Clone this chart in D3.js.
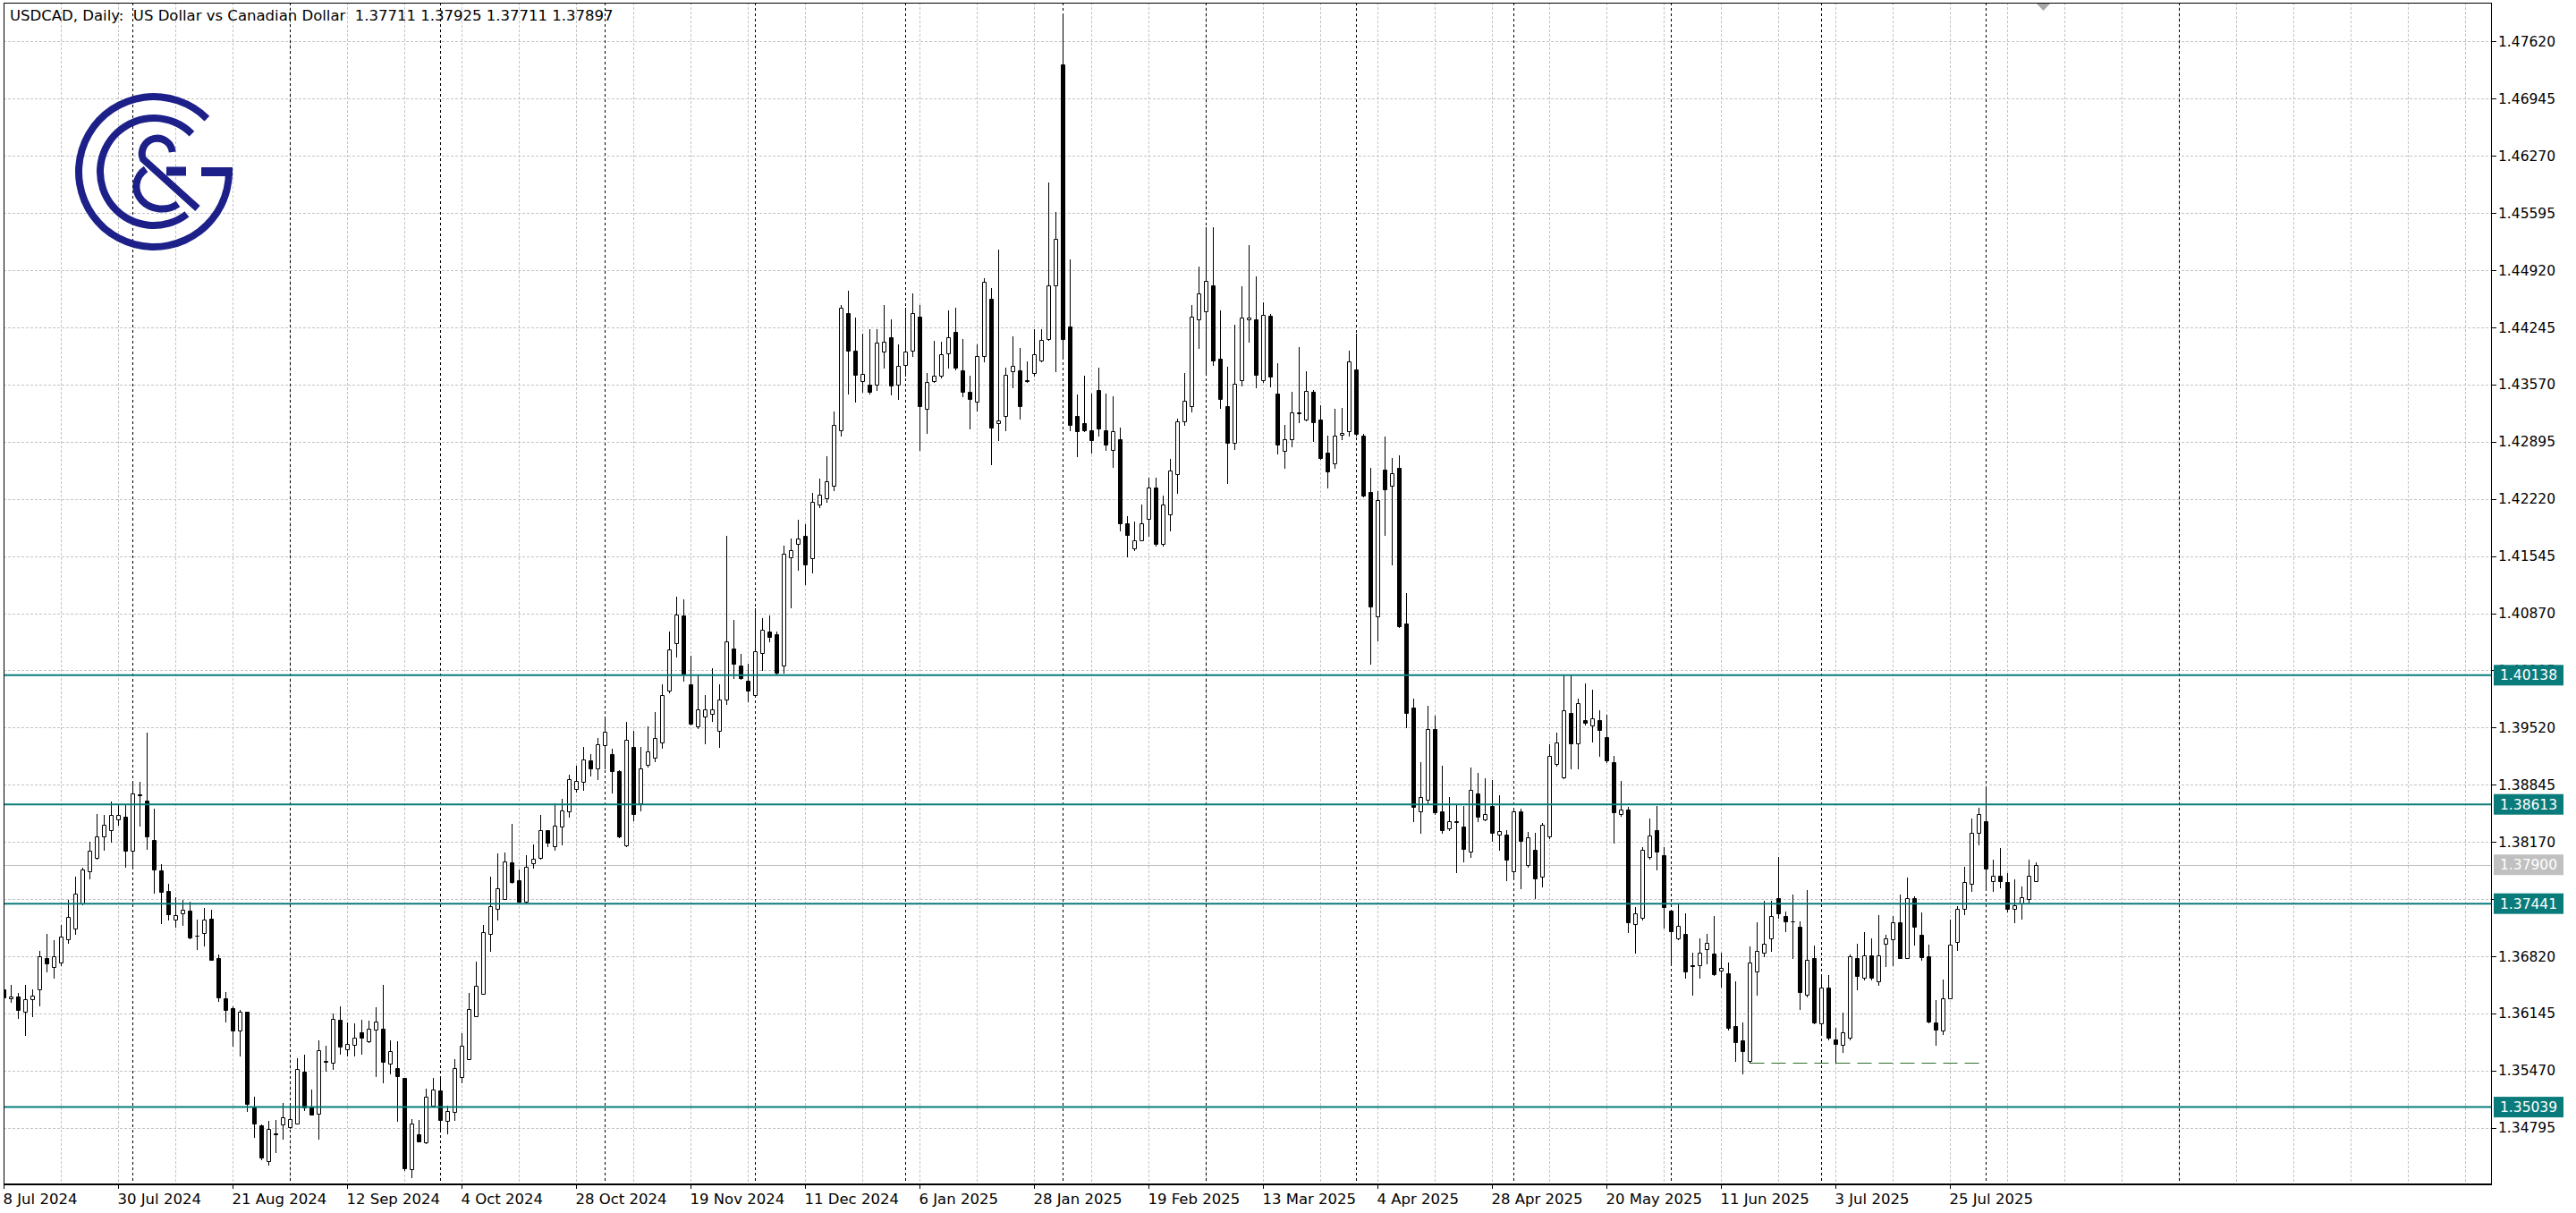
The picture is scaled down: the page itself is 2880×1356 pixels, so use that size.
<!DOCTYPE html>
<html><head><meta charset="utf-8">
<script src="https://cdn.jsdelivr.net/npm/d3@7"></script>
<style>html,body{margin:0;padding:0;background:#fff;overflow:hidden}</style>
</head><body>
<svg id="chart" width="2880" height="1356"></svg>
<script>
// ---------------- DATA ----------------
const titleText = "USDCAD, Daily:  US Dollar vs Canadian Dollar  1.37711 1.37925 1.37711 1.37897";

const open = [
1.36433,1.36327,1.36348,1.36162,1.36311,1.36433,1.36794,1.36693,1.36746,1.37017,
1.37145,1.37443,1.37825,1.37985,1.38235,1.38304,1.38436,1.38463,1.38064,1.38729,
1.38660,1.38197,1.37836,1.37586,1.37251,1.37331,1.37363,1.37065,1.37092,1.37267,
1.36799,1.36321,1.36204,1.35938,1.36162,1.35035,1.34822,1.34397,1.34726,1.34833,
1.34806,1.34849,1.35460,1.35045,1.34966,1.35582,1.35567,1.36071,1.35726,1.35779,
1.35923,1.35816,1.35955,1.35965,1.35556,1.35498,1.35381,1.34302,1.34716,1.34626,
1.35061,1.35232,1.34875,1.34981,1.35391,1.35609,1.36114,1.36380,1.37081,1.37384,
1.37496,1.37931,1.37719,1.37464,1.37921,1.37985,1.38304,1.38118,1.38346,1.38527,
1.38792,1.38877,1.39128,1.39037,1.39313,1.39207,1.39010,1.38128,1.39290,1.38622,
1.39079,1.39160,1.39349,1.39954,1.40519,1.40843,1.40035,1.39530,1.39645,1.39685,
1.39477,1.39851,1.40452,1.40251,1.40069,1.39905,1.40405,1.40654,1.40620,1.40251,
1.41529,1.41684,1.41785,1.41516,1.42155,1.42222,1.42377,1.43030,1.44409,1.43972,
1.43615,1.43568,1.43568,1.43959,1.44127,1.43568,1.43804,1.43972,1.44376,1.43285,
1.43615,1.43669,1.43938,1.44187,1.43737,1.43481,1.43366,1.43905,1.44578,1.43117,
1.43198,1.43723,1.43737,1.43622,1.43703,1.43858,1.44107,1.44746,1.47350,1.44255,
1.43198,1.43111,1.43030,1.43501,1.43030,1.42794,1.42929,1.41933,1.41637,1.41731,
1.41987,1.42357,1.41684,1.42040,1.42512,1.43131,1.43319,1.44342,1.44430,1.44746,
1.43871,1.43312,1.42882,1.43622,1.44342,1.44342,1.43622,1.44383,1.43461,1.42788,
1.42923,1.43226,1.43158,1.43481,1.43158,1.42768,1.42640,1.42977,1.43024,1.43751,
1.42970,1.42304,1.40837,1.42566,1.42371,1.42586,1.40749,1.39760,1.38528,1.38663,
1.39504,1.38528,1.38326,1.38407,1.38346,1.38057,1.38737,1.38434,1.38596,1.38259,
1.38259,1.37828,1.38528,1.37896,1.38077,1.37761,1.38232,1.39087,1.38932,1.39692,
1.39336,1.39612,1.39544,1.39605,1.39403,1.39107,1.38494,1.38548,1.37202,1.37270,
1.37990,1.38313,1.38010,1.37357,1.37034,1.37088,1.36711,1.36711,1.36900,1.36852,
1.36651,1.36617,1.35991,1.35823,1.35587,1.36644,1.36866,1.37034,1.37505,1.37290,
1.37236,1.37169,1.36361,1.36799,1.36025,1.36449,1.35836,1.35769,1.35857,1.36799,
1.36563,1.36832,1.36529,1.36972,1.37024,1.37221,1.36799,1.37510,1.37070,1.36817,
1.36043,1.35938,1.36325,1.36993,1.37376,1.37678,1.38273,1.38417,1.37710,1.37773,
1.37692,1.37380,1.37439,1.37499,1.37711];

const high = [
1.36444,1.36486,1.36391,1.36481,1.36428,1.36885,1.37081,1.37012,1.37193,1.37480,
1.37756,1.37862,1.38171,1.38500,1.38489,1.38649,1.38612,1.38612,1.38888,1.38877,
1.39462,1.38559,1.37905,1.37676,1.37517,1.37480,1.37464,1.37251,1.37389,1.37373,
1.36842,1.36401,1.36231,1.36189,1.36167,1.35157,1.34838,1.34875,1.34891,1.35088,
1.35051,1.35620,1.35657,1.35248,1.35822,1.35763,1.36146,1.36231,1.36034,1.36029,
1.36071,1.36055,1.36220,1.36481,1.35827,1.35816,1.35381,1.34902,1.34886,1.35258,
1.35381,1.35402,1.35061,1.35604,1.35912,1.36391,1.36752,1.37187,1.37756,1.38038,
1.38048,1.38383,1.37846,1.38011,1.38144,1.38489,1.38314,1.38622,1.38676,1.38968,
1.39074,1.39287,1.39207,1.39393,1.39617,1.39271,1.39021,1.39590,1.39480,1.39295,
1.39530,1.39699,1.40035,1.40654,1.41065,1.41031,1.40372,1.40136,1.39905,1.40224,
1.40035,1.41785,1.40789,1.40385,1.40271,1.40923,1.40809,1.40843,1.40654,1.41664,
1.41751,1.41973,1.41919,1.42290,1.42458,1.42727,1.43252,1.44510,1.44679,1.44356,
1.44174,1.44221,1.44221,1.44510,1.44342,1.44039,1.44477,1.44645,1.44510,1.43703,
1.44086,1.44073,1.44443,1.44477,1.44107,1.43669,1.44039,1.44827,1.44712,1.45163,
1.43770,1.44140,1.44006,1.43838,1.44221,1.44221,1.45957,1.45608,1.47943,1.45049,
1.43454,1.43669,1.43467,1.43770,1.43467,1.43434,1.43064,1.42020,1.41953,1.42155,
1.42471,1.42471,1.42256,1.42693,1.43164,1.43703,1.44510,1.44961,1.45432,1.45432,
1.44443,1.43784,1.44275,1.44726,1.45217,1.44847,1.44544,1.44403,1.43818,1.43091,
1.43481,1.44013,1.43730,1.43508,1.43327,1.42970,1.43280,1.43293,1.43966,1.44168,
1.42990,1.42586,1.42317,1.42957,1.42707,1.42734,1.41106,1.39861,1.39107,1.39780,
1.39659,1.39067,1.38697,1.38616,1.38596,1.39053,1.38986,1.38919,1.38898,1.38717,
1.38313,1.38569,1.38562,1.38293,1.38279,1.38394,1.39322,1.39457,1.40143,1.40143,
1.39861,1.40042,1.39962,1.39726,1.39672,1.39188,1.38885,1.38582,1.37404,1.38111,
1.38447,1.38596,1.38111,1.37371,1.37438,1.37323,1.36866,1.37034,1.37088,1.37290,
1.36866,1.36751,1.36529,1.36038,1.36933,1.37216,1.37472,1.37472,1.37990,1.37351,
1.37552,1.37236,1.37606,1.36947,1.36597,1.36597,1.35971,1.36159,1.36846,1.36967,
1.37102,1.37034,1.37303,1.37077,1.37299,1.37552,1.37745,1.37527,1.37341,1.36954,
1.36297,1.36550,1.37256,1.37415,1.37879,1.38448,1.38575,1.38818,1.37956,1.38100,
1.37798,1.37731,1.37640,1.37956,1.37925];

const low = [
1.36311,1.36284,1.36093,1.35891,1.36114,1.36242,1.36640,1.36571,1.36714,1.36975,
1.37081,1.37427,1.37735,1.37969,1.38080,1.38171,1.38373,1.37878,1.37889,1.38357,
1.38091,1.37570,1.37214,1.37251,1.37171,1.37187,1.37028,1.36906,1.36948,1.36773,
1.36295,1.36045,1.35763,1.35646,1.34997,1.34690,1.34424,1.34360,1.34503,1.34663,
1.34790,1.34849,1.35008,1.34955,1.34663,1.35471,1.35487,1.35673,1.35646,1.35646,
1.35673,1.35806,1.35407,1.35327,1.35434,1.34875,1.34291,1.34211,1.34636,1.34610,
1.35045,1.34785,1.34732,1.34886,1.35327,1.35609,1.36114,1.36380,1.36885,1.37251,
1.37496,1.37682,1.37464,1.37453,1.37868,1.37974,1.38118,1.38080,1.38144,1.38463,
1.38766,1.38782,1.38952,1.38915,1.39037,1.38755,1.38224,1.38118,1.38420,1.38541,
1.39059,1.39126,1.39281,1.39934,1.40358,1.40069,1.39550,1.39510,1.39329,1.39598,
1.39295,1.39800,1.40102,1.40089,1.39833,1.39887,1.40203,1.40539,1.40150,1.40170,
1.40943,1.41381,1.41213,1.41347,1.42121,1.42189,1.42323,1.42962,1.43467,1.43366,
1.43481,1.43467,1.43501,1.43770,1.43454,1.43400,1.43669,1.43905,1.42794,1.42996,
1.43602,1.43656,1.43770,1.43750,1.43434,1.43050,1.43265,1.43838,1.42626,1.42916,
1.43030,1.43535,1.43164,1.43602,1.43669,1.43838,1.44093,1.43723,1.43871,1.43030,
1.42727,1.43016,1.42761,1.42962,1.42794,1.42592,1.41852,1.41536,1.41617,1.41731,
1.41785,1.41670,1.41670,1.41852,1.42290,1.43097,1.43252,1.44006,1.43683,1.43804,
1.43299,1.42404,1.42808,1.43555,1.44073,1.43535,1.43602,1.43549,1.42755,1.42586,
1.42835,1.43125,1.43145,1.42903,1.42687,1.42351,1.42586,1.42923,1.42970,1.42970,
1.42250,1.40278,1.40547,1.41799,1.41442,1.40702,1.39524,1.38414,1.38279,1.38629,
1.38501,1.38279,1.38313,1.37808,1.37943,1.37990,1.38414,1.38421,1.38178,1.38077,
1.37721,1.37761,1.37620,1.37876,1.37505,1.37640,1.38212,1.39067,1.38919,1.39040,
1.39040,1.39558,1.39356,1.39188,1.39107,1.38158,1.38481,1.37102,1.36866,1.37250,
1.37976,1.37842,1.37155,1.36731,1.37020,1.36563,1.36361,1.36563,1.36731,1.36597,
1.36462,1.35957,1.35587,1.35432,1.35567,1.36361,1.36819,1.36886,1.37270,1.37115,
1.36799,1.36193,1.36348,1.36025,1.35890,1.35836,1.35567,1.35688,1.35836,1.36429,
1.36550,1.36550,1.36483,1.36701,1.36711,1.36799,1.36799,1.36958,1.36778,1.36033,
1.35769,1.35899,1.36325,1.36894,1.37316,1.37591,1.38142,1.37633,1.37591,1.37633,
1.37351,1.37218,1.37264,1.37446,1.37711];

const close = [
1.36337,1.36348,1.36189,1.36311,1.36353,1.36821,1.36730,1.36821,1.37054,1.37283,
1.37560,1.37841,1.38064,1.38235,1.38373,1.38489,1.38489,1.38064,1.38739,1.38718,
1.38235,1.37841,1.37581,1.37320,1.37304,1.37373,1.37044,1.37060,1.37251,1.36778,
1.36337,1.36189,1.35938,1.36167,1.35077,1.34849,1.34440,1.34785,1.34721,1.34923,
1.34897,1.35487,1.35035,1.34955,1.35710,1.35577,1.36082,1.35753,1.35784,1.35859,
1.35859,1.35965,1.36045,1.35577,1.35700,1.35407,1.34318,1.34849,1.34636,1.35157,
1.35248,1.34891,1.34997,1.35503,1.35763,1.36194,1.36470,1.37108,1.37410,1.37623,
1.37942,1.37692,1.37464,1.37878,1.37974,1.38304,1.38160,1.38357,1.38543,1.38915,
1.38888,1.39144,1.39037,1.39324,1.39473,1.39005,1.38240,1.39377,1.38500,1.39039,
1.39241,1.39396,1.39905,1.40439,1.40856,1.40156,1.39564,1.39732,1.39732,1.39732,
1.39851,1.40539,1.40271,1.40102,1.39954,1.40425,1.40674,1.40587,1.40170,1.41569,
1.41617,1.41751,1.41448,1.42189,1.42269,1.42424,1.43097,1.44477,1.43972,1.43689,
1.43696,1.43481,1.44060,1.44073,1.43555,1.43790,1.43959,1.44409,1.43319,1.43602,
1.43669,1.43925,1.44127,1.43770,1.43481,1.43400,1.43905,1.44780,1.43064,1.43144,
1.43689,1.43790,1.43319,1.43615,1.43925,1.44093,1.44746,1.45285,1.44107,1.43097,
1.43016,1.43030,1.42909,1.43050,1.42862,1.43016,1.41933,1.41798,1.41731,1.41933,
1.42357,1.41684,1.42155,1.42559,1.43131,1.43380,1.44376,1.44645,1.44793,1.43858,
1.43400,1.42882,1.43582,1.44356,1.44356,1.43683,1.44396,1.43663,1.42856,1.42923,
1.43239,1.43246,1.43495,1.43125,1.42707,1.42539,1.42970,1.42997,1.43845,1.42990,
1.42263,1.40951,1.42203,1.42337,1.42519,1.40716,1.39692,1.38582,1.38697,1.39504,
1.38515,1.38313,1.38414,1.38414,1.38091,1.38784,1.38468,1.38494,1.38279,1.38299,
1.37963,1.38528,1.38178,1.38225,1.37741,1.38367,1.39188,1.39343,1.39726,1.39336,
1.39807,1.39571,1.39625,1.39490,1.39134,1.38515,1.38548,1.37223,1.37323,1.38077,
1.38245,1.38057,1.37404,1.37115,1.37182,1.36644,1.36704,1.36866,1.36981,1.36610,
1.36684,1.35971,1.35809,1.35702,1.36751,1.36886,1.36967,1.37290,1.37323,1.37236,
1.37229,1.36395,1.36778,1.36038,1.36449,1.35857,1.35789,1.35924,1.36819,1.36583,
1.36832,1.36563,1.36832,1.37031,1.37221,1.36799,1.37510,1.37169,1.36813,1.36051,
1.35956,1.36325,1.36961,1.37376,1.37692,1.38273,1.38494,1.37854,1.37773,1.37710,
1.37380,1.37422,1.37520,1.37773,1.37897];

const dateLabels = ["8 Jul 2024","30 Jul 2024","21 Aug 2024","12 Sep 2024","4 Oct 2024","28 Oct 2024",
  "19 Nov 2024","11 Dec 2024","6 Jan 2025","28 Jan 2025","19 Feb 2025","13 Mar 2025","4 Apr 2025",
  "28 Apr 2025","20 May 2025","11 Jun 2025","3 Jul 2025","25 Jul 2025"];
const dateLabelBars = [0,16,32,48,64,80,96,112,128,144,160,176,192,208,224,240,256,272];
const monthStartBars = [18,40,61,84,105,126,148,168,189,211,233,254,277,304];
const priceTicks = [1.34795,1.35470,1.36145,1.36820,1.37495,1.38170,1.38845,1.39520,1.40195,1.40870,
  1.41545,1.42220,1.42895,1.43570,1.44245,1.44920,1.45595,1.46270,1.46945,1.47620];
const levelPrices = [1.40138,1.38613,1.37441,1.35039];
const bidPrice = 1.37900;
const supportBars = [244,276];
const supportPrice = 1.35567;

// ---------------- LAYOUT ----------------
const W = 2880, H = 1356;
const L = 4, R = 2786, T = 3, B = 1324;
const FONT = "'DejaVu Sans', Verdana, sans-serif";
const TEAL = "#0a7b7b", GRID = "#c4c4c4";

const svg = d3.select("#chart");
svg.append("rect").attr("width",W).attr("height",H).attr("fill","#fff");

const x = d3.scaleLinear().domain([0,100]).range([4.5,804.5]);
const y = d3.scaleLinear().domain([1.34795,1.47620]).range([1260.7,46.4]);
const py = p => Math.round(y(p)) + 0.5;

svg.append("defs").append("clipPath").attr("id","plotclip")
  .append("rect").attr("x",L).attr("y",T).attr("width",R-L).attr("height",B-T);
const plot = svg.append("g").attr("clip-path","url(#plotclip)");

// grid (vertical every 8 bars, horizontal at price ticks)
const vGrid = d3.range(0, 44).map(k => k*8);
plot.append("g").selectAll("line").data(vGrid).join("line")
  .attr("x1",d=>x(d)).attr("x2",d=>x(d)).attr("y1",T).attr("y2",B)
  .attr("stroke",GRID).attr("stroke-width",1).attr("stroke-dasharray","3,2");
plot.append("g").selectAll("line").data(priceTicks).join("line")
  .attr("x1",L).attr("x2",R).attr("y1",d=>py(d)).attr("y2",d=>py(d))
  .attr("stroke",GRID).attr("stroke-width",1).attr("stroke-dasharray","3,2");

// month separators
plot.append("g").selectAll("line").data(monthStartBars).join("line")
  .attr("x1",d=>x(d)).attr("x2",d=>x(d)).attr("y1",T).attr("y2",B)
  .attr("stroke","#000").attr("stroke-width",1).attr("stroke-dasharray","3,3");

// bid line
plot.append("line").attr("x1",L).attr("x2",R).attr("y1",py(bidPrice)).attr("y2",py(bidPrice))
  .attr("stroke","#c0c0c0").attr("stroke-width",1);

// candles
const bars = d3.range(open.length).map(i => ({i, o:open[i], h:high[i], l:low[i], c:close[i]}));
const cg = plot.append("g");
cg.selectAll("line").data(bars).join("line")
  .attr("x1",d=>x(d.i)).attr("x2",d=>x(d.i))
  .attr("y1",d=>Math.round(y(d.h))).attr("y2",d=>Math.round(y(d.l))+1)
  .attr("stroke","#000").attr("stroke-width",1);
cg.selectAll("path").data(bars).join("path")
  .attr("d", d => {
    const top = Math.round(y(Math.max(d.o,d.c))) + 0.5;
    const bot = Math.round(y(Math.min(d.o,d.c))) + 0.5;
    const x0 = x(d.i) - 2;
    return `M${x0},${top}H${x0+4}V${bot}H${x0}Z`;
  })
  .attr("fill", d => d.c >= d.o ? "#fff" : "#000")
  .attr("stroke","#000").attr("stroke-width",1);

// level lines
plot.append("g").selectAll("line").data(levelPrices).join("line")
  .attr("x1",L).attr("x2",R).attr("y1",d=>y(d)).attr("y2",d=>y(d))
  .attr("stroke",TEAL).attr("stroke-width",2);

// support dashed segment
plot.append("line")
  .attr("x1",x(supportBars[0])).attr("x2",x(supportBars[1]))
  .attr("y1",py(supportPrice)).attr("y2",py(supportPrice))
  .attr("stroke","#2f6e2f").attr("stroke-width",1).attr("stroke-dasharray","16,8");

// frame
svg.append("rect").attr("x",L+0.5).attr("y",T+0.5).attr("width",R-L-1).attr("height",B-T)
  .attr("fill","none").attr("stroke","#000").attr("stroke-width",1);
svg.append("line").attr("x1",L).attr("x2",R).attr("y1",B).attr("y2",B)
  .attr("stroke","#000").attr("stroke-width",2);

// chart shift marker
svg.append("path").attr("d",`M${x(285)-7.5},${T+1}L${x(285)+7.5},${T+1}L${x(285)},${T+9}Z`)
  .attr("fill","#a8a8a8");

// price axis
const ax = svg.append("g").attr("font-family",FONT).attr("font-size","15.5px");
ax.selectAll("line").data(priceTicks).join("line")
  .attr("x1",R).attr("x2",R+5).attr("y1",d=>py(d)).attr("y2",d=>py(d))
  .attr("stroke","#000");
ax.selectAll("text").data(priceTicks).join("text")
  .attr("x",R+7).attr("y",d=>y(d)).attr("dy","0.36em")
  .attr("fill","#000").text(d=>d.toFixed(5));

// level label boxes
const lb = svg.append("g").attr("font-family",FONT).attr("font-size","15.5px");
const boxes = levelPrices.map(p => ({p, fill:TEAL})).concat([{p:bidPrice, fill:"#c0c0c0"}]);
lb.selectAll("rect").data(boxes).join("rect")
  .attr("x",R+2).attr("y",d=>y(d.p)-11.5).attr("width",78).attr("height",23).attr("fill",d=>d.fill);
lb.selectAll("text").data(boxes).join("text")
  .attr("x",R+9).attr("y",d=>y(d.p)).attr("dy","0.36em").attr("fill","#fff").text(d=>d.p.toFixed(5));

// time axis
const tx = svg.append("g").attr("font-family",FONT).attr("font-size","16.5px");
tx.selectAll("line").data(dateLabelBars).join("line")
  .attr("x1",d=>x(d)).attr("x2",d=>x(d)).attr("y1",B).attr("y2",B+5).attr("stroke","#000");
tx.selectAll("text").data(dateLabels).join("text")
  .attr("x",(d,i)=>x(dateLabelBars[i]) - 1).attr("y",1346).attr("fill","#000").text(d=>d);

// title
svg.append("text").attr("x",11).attr("y",23).attr("font-family",FONT).attr("font-size","16.5px")
  .attr("fill","#000").style("white-space","pre").text(titleText);

// logo
const NAVY = "#1d2088";
const lg = svg.append("g").attr("transform","translate(172,192)");
const arc = d3.arc();
lg.append("path").attr("fill",NAVY)
  .attr("d",arc({innerRadius:80,outerRadius:88,startAngle:Math.PI/2,endAngle:Math.PI*2+Math.PI/4}));
lg.append("rect").attr("x",53).attr("y",-5).attr("width",35).attr("height",10).attr("fill",NAVY);
lg.append("path").attr("fill",NAVY)
  .attr("d",arc({innerRadius:56,outerRadius:64,startAngle:142*Math.PI/180,endAngle:Math.PI*2+Math.PI/4}));
const amp = svg.append("g").attr("fill","none").attr("stroke",NAVY).attr("stroke-width",8);
amp.append("path").attr("d","M192.7,170 A17,17 0 1 0 160,178 L221,233");
amp.append("path").attr("d","M163,189 A24,21 0 1 0 199,228");
amp.append("path").attr("d","M186,191.5 L208,191.5").attr("stroke-width",10);
</script>
</body></html>
